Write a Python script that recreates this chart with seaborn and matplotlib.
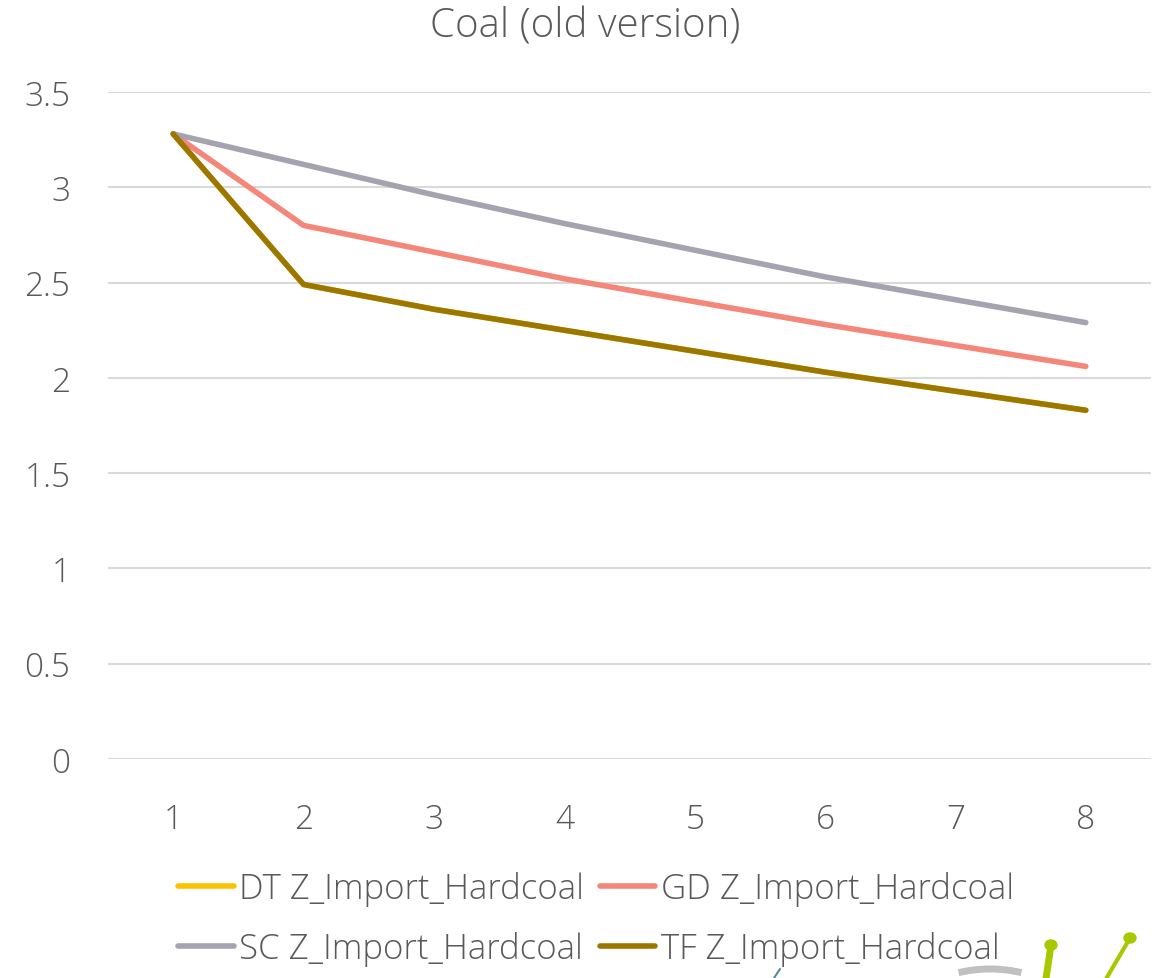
import numpy as np
import pandas as pd
import matplotlib
matplotlib.use("Agg")
import matplotlib.pyplot as plt
import seaborn as sns
from matplotlib.lines import Line2D
from matplotlib.patches import Circle, Arc

years = [1, 2, 3, 4, 5, 6, 7, 8]
dt_values = [3.28, 2.49, 2.36, 2.25, 2.14, 2.03, 1.93, 1.83]
gd_values = [3.28, 2.80, 2.66, 2.52, 2.40, 2.28, 2.17, 2.06]
sc_values = [3.28, 3.12, 2.96, 2.81, 2.67, 2.53, 2.41, 2.29]
tf_values = [3.28, 2.49, 2.36, 2.25, 2.14, 2.03, 1.93, 1.83]
series_names = ["DT Z_Import_Hardcoal", "GD Z_Import_Hardcoal",
                "SC Z_Import_Hardcoal", "TF Z_Import_Hardcoal"]
y_ticks = [0, 0.5, 1, 1.5, 2, 2.5, 3, 3.5]
y_tick_labels = ["0", "0.5", "1", "1.5", "2", "2.5", "3", "3.5"]
colors = ["#FFC000", "#F4877A", "#A5A3AF", "#9C7700"]

rows = []
for name, vals in zip(series_names, [dt_values, gd_values, sc_values, tf_values]):
    for x, v in zip(years, vals):
        rows.append({"x": x, "value": v, "series": name})
df = pd.DataFrame(rows)

sns.set_theme(style="white")
plt.rcParams['font.family'] = ['Open Sans', 'DejaVu Sans']
text_color = "#595959"

W, H = 1170, 979
fig = plt.figure(figsize=(11.7, 9.79), dpi=100)
ax = fig.add_axes([108/W, 1-760/H, (1151-108)/W, (760-93)/H])

sns.lineplot(data=df, x="x", y="value", hue="series", palette=colors,
             hue_order=series_names, linewidth=4.0, ax=ax, legend=False,
             solid_capstyle="round", solid_joinstyle="round")

ax.set_xlim(0.5, 8.5)
ax.set_ylim(0, 3.5)
ax.set_yticks(y_ticks)
ax.set_yticklabels(y_tick_labels)
ax.set_xticks(years)
ax.set_xticklabels([str(y) for y in years])
for s in ax.spines.values():
    s.set_visible(False)
ax.grid(axis="y", color="#D9D9D9", linewidth=1.5)
ax.set_axisbelow(True)
ax.tick_params(axis="both", length=0, labelsize=24, colors=text_color)
ax.tick_params(axis="y", pad=27)
ax.tick_params(axis="x", pad=31)
for lbl in ax.get_xticklabels() + ax.get_yticklabels():
    lbl.set_fontweight("light")
ax.set_xlabel("")
ax.set_ylabel("")

fig.text(0.5, 1-27/H, "Coal (old version)", ha="center", va="center",
         fontsize=29, color=text_color, fontweight="light")

# legend in row-major order: DT, GD / SC, TF
order = [0, 2, 1, 3]
handles = [Line2D([0], [0], color=colors[i], linewidth=4.0) for i in order]
labels = [series_names[i] for i in order]
leg = fig.legend(handles, labels, loc="center", bbox_to_anchor=(596/W, 1-920/H),
                 ncol=2, frameon=False, handlelength=1.6,
                 handletextpad=0.15, columnspacing=0.45, labelspacing=0.72,
                 labelcolor=text_color, prop={"weight": "light", "size": 25})

# partial logo decoration at bottom right
green = "#A8C800"
fig.add_artist(Line2D([1051/W, 1046/W], [1-946/H, 1-980/H], color=green, lw=5,
                      transform=fig.transFigure))
fig.add_artist(Circle((1051/W, 1-946/H), 6/W, color=green, transform=fig.transFigure))
fig.add_artist(Line2D([1130/W, 1106/W], [1-939/H, 1-980/H], color=green, lw=3,
                      transform=fig.transFigure))
fig.add_artist(Circle((1130/W, 1-939/H), 6/W, color=green, transform=fig.transFigure))
fig.add_artist(Arc((990/W, 1-1000/H), 130/W, 60/H, theta1=45, theta2=135,
                   color="#C0C0C0", lw=5, transform=fig.transFigure))
fig.add_artist(Line2D([774/W, 780/W], [1-979/H, 1-970/H], color="#5A8A9A", lw=1.5,
                      transform=fig.transFigure))

fig.savefig("out.png", dpi=100, facecolor="white")
